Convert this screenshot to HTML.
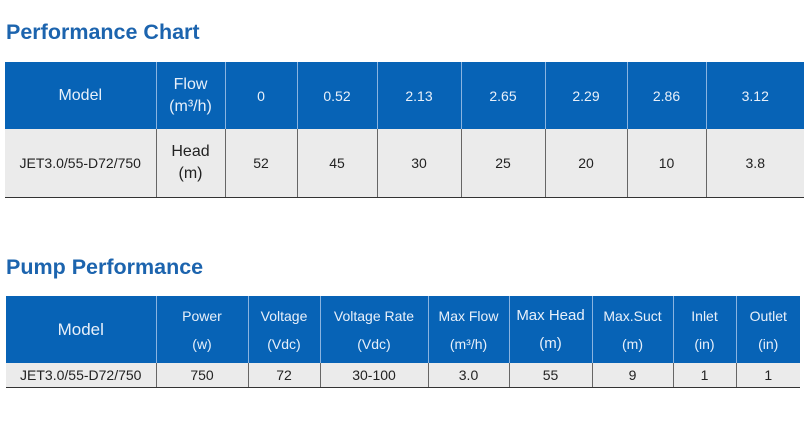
<!DOCTYPE html>
<html><head><meta charset="utf-8"><style>
body{margin:0;width:806px;height:426px;background:#fff;font-family:"Liberation Sans",sans-serif;position:relative;overflow:hidden}
.t{position:absolute;left:6px;color:#1c64ae;font-weight:bold;font-size:21.5px;letter-spacing:0px}
table{position:absolute;border-collapse:collapse;table-layout:fixed}
td{text-align:center;padding:0;font-size:14px;line-height:22px}
tr.h td{background:#0763b6;color:#e8f0fa;border-left:1.5px solid #8ab4e0}
tr.h td:first-child{border-left:none}
tr.r td{background:#ebebeb;color:#222;border-left:1px solid #666;border-bottom:1.5px solid #333}
tr.r td:first-child{border-left:none}
</style></head><body>
<div class="t" style="top:20px">Performance Chart</div>
<table style="left:5px;top:62px;width:799px">
<colgroup><col style="width:151px"><col style="width:69px"><col style="width:72px"><col style="width:80px"><col style="width:84px"><col style="width:84px"><col style="width:82px"><col style="width:79px"><col style="width:98px"></colgroup>
<tr class="h" style="height:67px"><td style="font-size:16px">Model</td><td style="font-size:16px">Flow<br>(m³/h)</td><td>0</td><td>0.52</td><td>2.13</td><td>2.65</td><td>2.29</td><td>2.86</td><td>3.12</td></tr>
<tr class="r" style="height:68px"><td>JET3.0/55-D72/750</td><td style="font-size:16px">Head<br>(m)</td><td>52</td><td>45</td><td>30</td><td>25</td><td>20</td><td>10</td><td>3.8</td></tr>
</table>
<div class="t" style="top:255px">Pump Performance</div>
<table style="left:6px;top:296px;width:794px">
<colgroup><col style="width:150px"><col style="width:92px"><col style="width:72px"><col style="width:108px"><col style="width:81px"><col style="width:83px"><col style="width:81px"><col style="width:63px"><col style="width:64px"></colgroup>
<tr class="h" style="height:67px"><td style="font-size:17px">Model</td><td style="line-height:28px">Power<br>(w)</td><td style="line-height:28px">Voltage<br>(Vdc)</td><td style="line-height:28px">Voltage Rate<br>(Vdc)</td><td style="line-height:28px">Max Flow<br>(m³/h)</td><td style="line-height:28px;font-size:15px">Max Head<br>(m)</td><td style="line-height:28px">Max.Suct<br>(m)</td><td style="line-height:28px">Inlet<br>(in)</td><td style="line-height:28px">Outlet<br>(in)</td></tr>
<tr class="r" style="height:24px"><td>JET3.0/55-D72/750</td><td>750</td><td>72</td><td>30-100</td><td>3.0</td><td>55</td><td>9</td><td>1</td><td>1</td></tr>
</table>
</body></html>
